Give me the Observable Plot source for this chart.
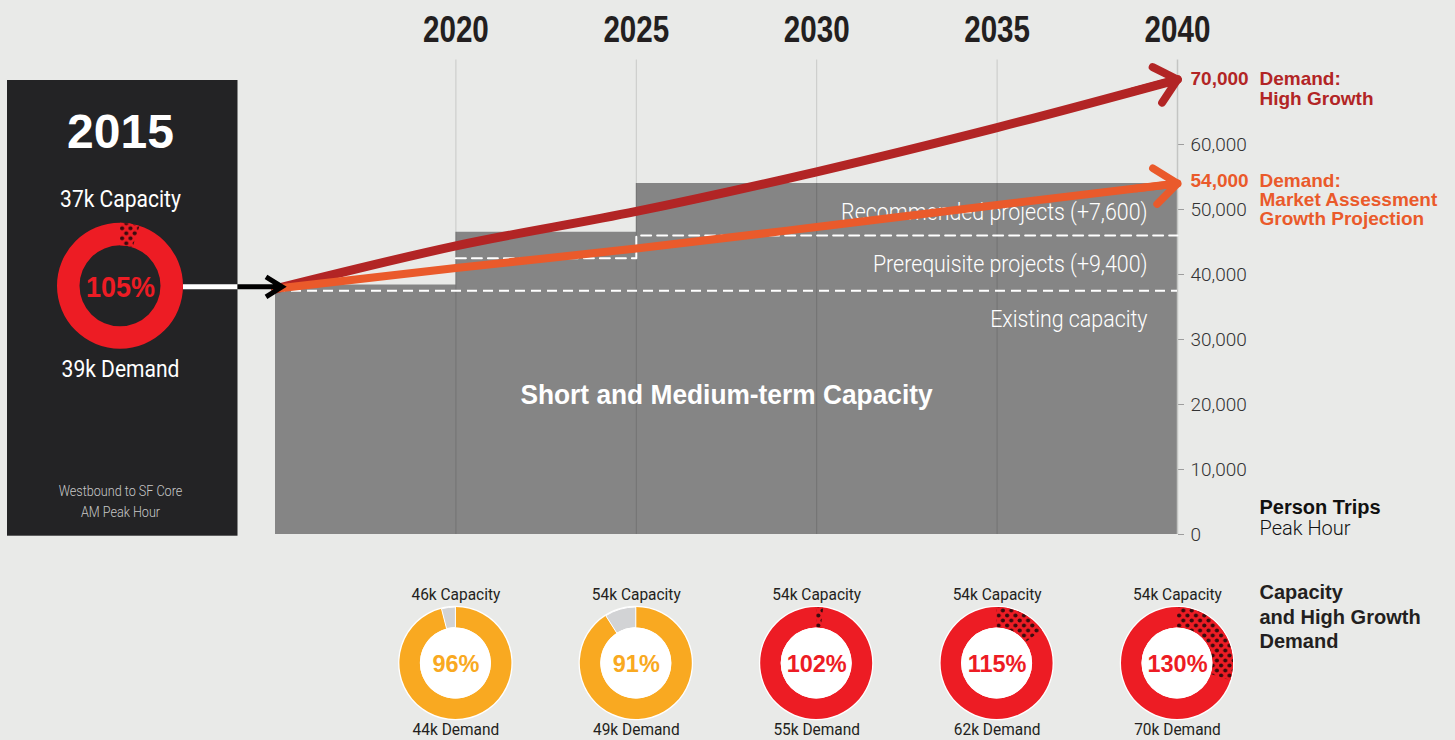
<!DOCTYPE html>
<html>
<head>
<meta charset="utf-8">
<script src="https://cdn.jsdelivr.net/npm/d3@7"></script>
<script src="https://cdn.jsdelivr.net/npm/@observablehq/plot@0.6"></script>
<style>
html, body { margin: 0; padding: 0; background: #e9eae8; }
#chart { width: 1455px; height: 740px; overflow: hidden; }
</style>
</head>
<body>
<div id="chart"></div>
<script>
// ---------------- data ----------------
const years = [2020, 2025, 2030, 2035, 2040];
const capacityK = [46, 54, 54, 54, 54];
const demandK = [44, 49, 55, 62, 70];
const utilizationPct = [96, 91, 102, 115, 130];

const baseYear = 2015;
const baseCapacityK = 37;
const baseDemandK = 39;
const baseUtilizationPct = 105;

const capacityYears = [2015, 2020, 2025, 2040];
const capacityTop = [38400, 46500, 54000, 54000];
const existingCapacity = 37500;
const prerequisiteYears = [2020, 2025, 2040];
const prerequisiteTop = [42500, 46000, 46000];

const demandYears = [2015, 2020, 2025, 2030, 2035, 2040];
const highGrowth = [37800, 44400, 49700, 55800, 62600, 70000];
const marketGrowth = [37800, 41000, 44000, 47300, 50700, 54000];

const yTicks = [0, 10000, 20000, 30000, 40000, 50000, 60000];
const bandLabels = ["Recommended projects (+7,600)", "Prerequisite projects (+9,400)", "Existing capacity"];
const bandTops = [capacityTop[3], prerequisiteTop[2], existingCapacity];

// ---------------- tables ----------------
const capacity = capacityYears.map((year, i) => ({year, top: capacityTop[i]}));
const prerequisite = prerequisiteYears.map((year, i) => ({year, top: prerequisiteTop[i]}));
const high = demandYears.map((year, i) => ({year, v: highGrowth[i]}));
const market = demandYears.map((year, i) => ({year, v: marketGrowth[i]}));
const bands = bandLabels.map((label, i) => ({label, top: bandTops[i]}));
const donuts = years.map((year, i) => ({year, cap: capacityK[i], dem: demandK[i], pct: utilizationPct[i]}));
const n = demandYears.length;

// ---------------- styles ----------------
const C = {
  area: "#858585", panel: "#232325", high: "#b22525", market: "#ea5a2b",
  red: "#ed1c24", amber: "#f9a921", light: "#d2d3d5", dots: "#3a0c0e", ink: "#231f20"
};
const BOLD = "'Liberation Sans', Arial, sans-serif";
const LIGHT = "Roboto, 'Liberation Sans', sans-serif";
const fmt = d3.format(",");
const tau = 2 * Math.PI;

function drawDonut(g, cx, cy, pct, R, r, onLight) {
  const arc = d3.arc().innerRadius(r).outerRadius(R);
  const gg = g.append("g").attr("transform", `translate(${cx},${cy})`);
  if (onLight) gg.append("circle").attr("r", R + 1.3).attr("fill", "white");
  if (pct <= 100) {
    const a = pct / 100 * tau;
    gg.append("path").attr("d", arc({startAngle: 0, endAngle: a})).attr("fill", C.amber);
    gg.append("path").attr("d", arc({startAngle: a, endAngle: tau})).attr("fill", C.light)
      .attr("stroke", "white").attr("stroke-width", 1);
  } else {
    gg.append("path").attr("d", arc({startAngle: 0, endAngle: tau})).attr("fill", C.red);
    gg.append("path").attr("d", arc({startAngle: 0, endAngle: (pct - 100) / 100 * tau})).attr("fill", "url(#dotpat)");
  }
  if (onLight) gg.append("circle").attr("r", r).attr("fill", "white");
}

// panel for 2015 with its donut and white connector
function panelMark(index, scales, values, dims) {
  const x0 = scales.x(baseYear);
  const g = d3.create("svg:g");
  const defs = g.append("defs");
  const pat = defs.append("pattern").attr("id", "dotpat").attr("patternUnits", "userSpaceOnUse")
    .attr("width", 8.4).attr("height", 10);
  pat.append("rect").attr("width", 8.4).attr("height", 10).attr("fill", C.red);
  pat.append("circle").attr("cx", 2.1).attr("cy", 2.5).attr("r", 2.1).attr("fill", C.dots);
  pat.append("circle").attr("cx", 6.3).attr("cy", 7.5).attr("r", 2.1).attr("fill", C.dots);
  const top = scales.y(70000) + 1, bottom = scales.y(0) + 1.7;
  g.append("rect").attr("x", x0 - 268).attr("y", top).attr("width", 230.5)
    .attr("height", bottom - top).attr("fill", C.panel);
  const cx = x0 - 155, cy = scales.y(highGrowth[0]) - 2.5;
  drawDonut(g, cx, cy, baseUtilizationPct, 63, 40.5, false);
  g.append("line").attr("x1", cx + 63).attr("x2", x0 - 37.5)
    .attr("y1", cy + 1).attr("y2", cy + 1).attr("stroke", "white").attr("stroke-width", 5);
  return g.node();
}

function connectorMark(index, scales) {
  const x0 = scales.x(baseYear);
  const y0 = scales.y(highGrowth[0]) - 1.5;
  const xs = x0 - 37.5, xt = x0 + 7;
  const g = d3.create("svg:g");
  g.append("path")
    .attr("d", `M${xs},${y0}L${xt - 2},${y0}M${xt - 16},${y0 - 10}L${xt},${y0}L${xt - 16},${y0 + 10}`)
    .attr("fill", "none").attr("stroke", "black").attr("stroke-width", 5)
    .attr("stroke-linejoin", "miter").attr("stroke-miterlimit", 4);
  return g.node();
}

function donutsMark(index, scales, values, dims) {
  const g = d3.create("svg:g");
  const cy = dims.height - dims.marginBottom + 129;
  donuts.forEach(d => drawDonut(g, scales.x(d.year), cy, d.pct, 56, 35.5, true));
  return g.node();
}

const chart = Plot.plot({
  width: 1455,
  height: 740,
  marginLeft: 275,
  marginRight: 278,
  marginTop: 59.5,
  marginBottom: 206,
  x: {domain: [2015, 2040], axis: null},
  y: {domain: [0, 73000], axis: "right", ticks: yTicks, tickFormat: fmt, tickSize: 6, tickPadding: 7, label: null},
  style: {background: "transparent", fontFamily: LIGHT, fontSize: "19px", fontWeight: 300, color: "#333", overflow: "visible"},
  marks: [
    panelMark,
    Plot.areaY(capacity, {x: "year", y: "top", curve: "step-after", fill: C.area}),
    Plot.ruleX(years.slice(0, 4), {y1: 0, y2: 73000, stroke: "#000", strokeOpacity: 0.14}),
    Plot.ruleX([2040], {y1: 0, y2: 73000, stroke: "#c4c5c3", strokeWidth: 1.5}),
    Plot.ruleY([existingCapacity], {x1: 2015, x2: 2040, stroke: "white", strokeWidth: 2, strokeDasharray: "10,6"}),
    Plot.line(prerequisite, {x: "year", y: "top", curve: "step-after", stroke: "white", strokeWidth: 2, strokeDasharray: "10,6"}),
    Plot.text(bands, {y: "top", text: "label", frameAnchor: "right", dx: -30, dy: 29, textAnchor: "end", lineAnchor: "middle",
      fill: "white", fontSize: 23.5, fontFamily: LIGHT, fontWeight: 300, ariaDescription: "cond-band"}),
    Plot.text(["Short and Medium-term Capacity"], {x: () => (capacityYears[0] + capacityYears[3]) / 2, frameAnchor: "bottom",
      dy: -139, lineAnchor: "middle", textAnchor: "middle", text: d => d, fill: "white", fontSize: 28, fontFamily: BOLD, fontWeight: "bold", ariaDescription: "cond-big"}),
    Plot.line(high, {x: "year", y: "v", stroke: C.high, strokeWidth: 9, curve: "monotone-x"}),
    Plot.line(market, {x: "year", y: "v", stroke: C.market, strokeWidth: 8, curve: "monotone-x"}),
    Plot.arrow([0], {x1: () => demandYears[n - 2], y1: () => highGrowth[n - 2], x2: () => demandYears[n - 1], y2: () => highGrowth[n - 1],
      stroke: C.high, strokeWidth: 8, headLength: 5.2, headAngle: 83, insetStart: 140}),
    Plot.arrow([0], {x1: () => demandYears[n - 2], y1: () => marketGrowth[n - 2], x2: () => demandYears[n - 1], y2: () => marketGrowth[n - 1],
      stroke: C.market, strokeWidth: 7.5, headLength: 5.8, headAngle: 77, insetStart: 140}),
    connectorMark,
    // end values on the axis
    Plot.text([highGrowth[n - 1]], {y: d => d, text: d => fmt(d), frameAnchor: "right", dx: 13, dy: -0.5, textAnchor: "start", lineAnchor: "middle",
      fill: C.high, fontSize: 19, fontFamily: BOLD, fontWeight: "bold"}),
    Plot.text([marketGrowth[n - 1]], {y: d => d, text: d => fmt(d), frameAnchor: "right", dx: 13, dy: -2.2, textAnchor: "start", lineAnchor: "middle",
      fill: C.market, fontSize: 19, fontFamily: BOLD, fontWeight: "bold"}),
    Plot.text([highGrowth[n - 1]], {y: d => d, text: () => "Demand:\nHigh Growth", frameAnchor: "right", dx: 82, dy: -9,
      lineAnchor: "top", lineHeight: 1.05, textAnchor: "start", fill: C.high, fontSize: 19, fontFamily: BOLD, fontWeight: "bold"}),
    Plot.text([marketGrowth[n - 1]], {y: d => d, text: () => "Demand:\nMarket Assessment\nGrowth Projection", frameAnchor: "right", dx: 82, dy: -9.8,
      lineAnchor: "top", lineHeight: 1.0, textAnchor: "start", fill: C.market, fontSize: 19, fontFamily: BOLD, fontWeight: "bold"}),
    Plot.text(["Person Trips"], {text: d => d, frameAnchor: "bottom-right", dx: 82, dy: -27.2, textAnchor: "start", lineAnchor: "middle",
      fill: "#111", fontSize: 20, fontFamily: BOLD, fontWeight: "bold"}),
    Plot.text(["Peak Hour"], {text: d => d, frameAnchor: "bottom-right", dx: 82, dy: -6.2, textAnchor: "start", lineAnchor: "middle",
      fill: "#111", fontSize: 20, fontFamily: LIGHT, fontWeight: 300}),
    Plot.text(["Capacity\nand High Growth\nDemand"], {text: d => d, frameAnchor: "bottom-right", dx: 82, dy: 47, lineAnchor: "top",
      lineHeight: 1.23, textAnchor: "start", fill: C.ink, fontSize: 20, fontFamily: BOLD, fontWeight: "bold"}),
    // year labels
    Plot.text(years, {x: d => d, text: d => String(d), frameAnchor: "top", dy: -29.5, lineAnchor: "middle", textAnchor: "middle", fill: C.ink,
      fontSize: 37, fontFamily: BOLD, fontWeight: "bold", ariaDescription: "cond-year"}),
    // 2015 panel texts
    Plot.text([String(baseYear)], {text: d => d, frameAnchor: "top-left", dx: -155, dy: 72.9, textAnchor: "middle", lineAnchor: "middle", fill: "white",
      fontSize: 48, fontFamily: BOLD, fontWeight: "bold"}),
    Plot.text([`${baseCapacityK}k Capacity`], {text: d => d, frameAnchor: "top-left", dx: -155, dy: 139.5, textAnchor: "middle", lineAnchor: "middle", fill: "white",
      fontSize: 23, fontFamily: LIGHT, fontWeight: 400, ariaDescription: "cond-panel"}),
    Plot.text([`${baseUtilizationPct}%`], {text: d => d, frameAnchor: "top-left", dx: -155, dy: 227.7, textAnchor: "middle", lineAnchor: "middle", fill: C.red,
      fontSize: 30, fontFamily: BOLD, fontWeight: "bold", ariaDescription: "cond-pct15"}),
    Plot.text([`${baseDemandK}k Demand`], {text: d => d, frameAnchor: "top-left", dx: -155, dy: 309.4, textAnchor: "middle", lineAnchor: "middle", fill: "white",
      fontSize: 23, fontFamily: LIGHT, fontWeight: 400, ariaDescription: "cond-panel"}),
    Plot.text(["Westbound to SF Core\nAM Peak Hour"], {text: d => d, frameAnchor: "top-left", dx: -155, dy: 439.6, lineHeight: 1.45, textAnchor: "middle", lineAnchor: "middle",
      fill: "#c8c8c8", fontSize: 14.5, fontFamily: LIGHT, fontWeight: 300, ariaDescription: "cond-note"}),
    // bottom donuts
    donutsMark,
    Plot.text(donuts, {x: "year", text: d => `${d.cap}k Capacity`, frameAnchor: "bottom", dy: 59.7, lineAnchor: "middle", textAnchor: "middle", fill: C.ink,
      fontSize: 17, fontFamily: LIGHT, fontWeight: 400, ariaDescription: "cond-small"}),
    Plot.text(donuts, {x: "year", text: d => `${d.dem}k Demand`, frameAnchor: "bottom", dy: 195.4, lineAnchor: "middle", textAnchor: "middle", fill: C.ink,
      fontSize: 17, fontFamily: LIGHT, fontWeight: 400, ariaDescription: "cond-small"}),
    Plot.text(donuts.filter(d => d.pct <= 100), {x: "year", text: d => `${d.pct}%`, frameAnchor: "bottom", dy: 130.2, lineAnchor: "middle", textAnchor: "middle", fill: C.amber,
      fontSize: 23.5, fontFamily: BOLD, fontWeight: "bold"}),
    Plot.text(donuts.filter(d => d.pct > 100), {x: "year", text: d => `${d.pct}%`, frameAnchor: "bottom", dy: 130.2, lineAnchor: "middle", textAnchor: "middle", fill: C.red,
      fontSize: 23.5, fontFamily: BOLD, fontWeight: "bold"})
  ]
});

// condensed type emulation
const condense = {"cond-band": 0.91, "cond-big": 0.94, "cond-year": 0.8, "cond-panel": 0.915, "cond-pct15": 0.9, "cond-note": 0.87, "cond-small": 0.91};
for (const [label, s] of Object.entries(condense)) {
  d3.select(chart).selectAll(`g[aria-description="${label}"] text`).each(function () {
    const t = this.getAttribute("transform") || "";
    this.setAttribute("transform", `${t} scale(${s},1)`);
  });
}
// grey tick marks on the y axis
d3.select(chart).selectAll('[aria-label^="y-axis"] line, [aria-label="y-axis tick"] path, [aria-label^="y-axis"] .tick line')
  .attr("stroke", "#9d9d9d");

document.getElementById("chart").appendChild(chart);
</script>
</body>
</html>
